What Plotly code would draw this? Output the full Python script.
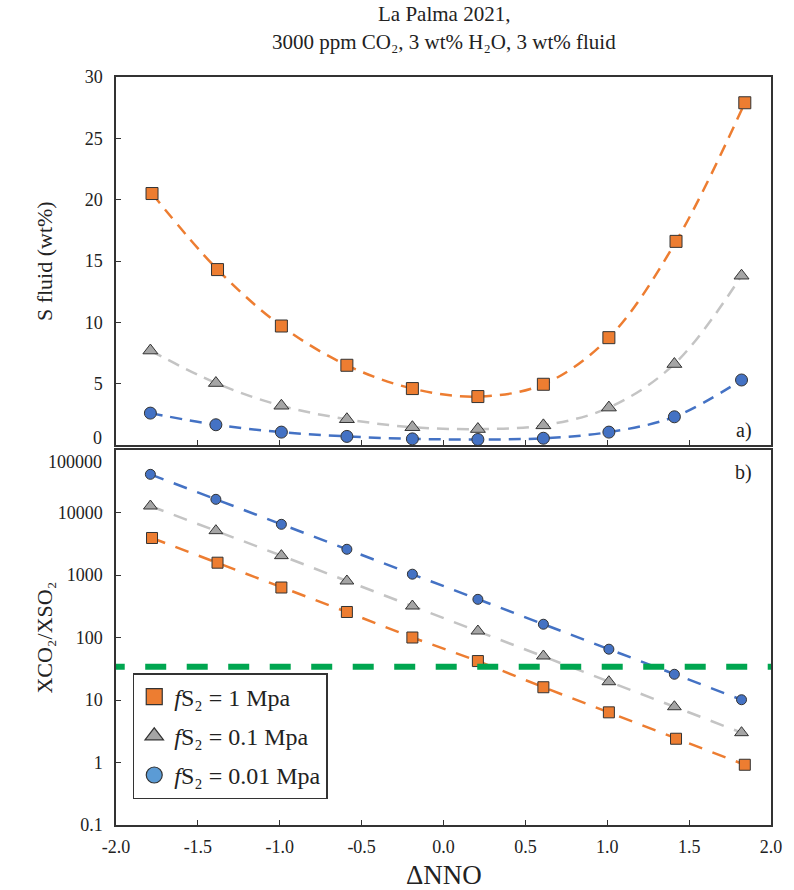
import plotly.graph_objects as go

# ---------------- data ----------------
dnno = [-1.79, -1.39, -0.99, -0.59, -0.19, 0.21, 0.61, 1.01, 1.41, 1.82]
dnno_sq = [-1.78, -1.38, -0.99, -0.59, -0.19, 0.21, 0.61, 1.01, 1.42, 1.84]

s_fluid_1 = [20.5, 14.3, 9.7, 6.5, 4.6, 3.95, 4.95, 8.75, 16.6, 27.9]
s_fluid_01 = [7.7, 5.05, 3.2, 2.1, 1.45, 1.3, 1.6, 3.05, 6.6, 13.8]
s_fluid_001 = [2.6, 1.65, 1.05, 0.7, 0.5, 0.45, 0.55, 1.05, 2.3, 5.3]

ratio_1 = [3910, 1573, 631, 256, 100, 42, 16, 6.35, 2.4, 0.92]
ratio_01 = [12700, 5120, 2040, 802, 319, 127, 50.6, 19.6, 7.8, 3.0]
ratio_001 = [40800, 16250, 6470, 2580, 1030, 408, 163, 65, 25.8, 10.1]

threshold_x = [-2.075, 2.0]
threshold_y = [34, 34]

legend_names = ["<i>f</i>S₂ = 1 Mpa",
                "<i>f</i>S₂ = 0.1 Mpa",
                "<i>f</i>S₂ = 0.01 Mpa"]
x_ticks = [-2.0, -1.5, -1.0, -0.5, 0.0, 0.5, 1.0, 1.5, 2.0]
x_ticktext = ["-2.0", "-1.5", "-1.0", "-0.5", "0.0", "0.5", "1.0", "1.5", "2.0"]
top_ticks = [0, 5, 10, 15, 20, 25, 30]
top_ticktext = ["", "5", "10", "15", "20", "25", "30"]
bot_ticks = [0.1, 1, 10, 100, 1000, 10000, 100000]
bot_ticktext = ["0.1", "1", "10", "100", "1000", "10000", ""]

# ---------------- styles ----------------
ORANGE = "#ED7D31"
GRAY_M = "#A5A5A5"
GRAY_L = "#C4C4C4"
BLUE = "#4472C4"
BLUE_LEG = "#5B9BD5"
GREEN = "#00A650"
EDGE = "#333333"
FONT = "Liberation Serif"

fig = go.Figure()

series_top = [
    (dnno_sq, s_fluid_1, ORANGE, ORANGE, "square", 12),
    (dnno, s_fluid_01, GRAY_L, GRAY_M, "triangle-up", 13),
    (dnno, s_fluid_001, BLUE, BLUE, "circle", 12),
]
for xs, ys, lc, mc, sym, sz in series_top:
    fig.add_trace(go.Scatter(
        x=xs, y=ys, xaxis="x2", yaxis="y2", mode="lines+markers",
        line=dict(color=lc, width=2.5, dash="12px,8px", shape="spline", smoothing=1.0),
        marker=dict(symbol=sym, size=sz, color=mc, line=dict(color=EDGE, width=1)),
        showlegend=False, hoverinfo="skip"))

series_bot = [
    (dnno_sq, ratio_1, ORANGE, ORANGE, "square", 11),
    (dnno, ratio_01, GRAY_L, GRAY_M, "triangle-up", 12),
    (dnno, ratio_001, BLUE, BLUE, "circle", 10),
]
for xs, ys, lc, mc, sym, sz in series_bot:
    fig.add_trace(go.Scatter(
        x=xs, y=ys, xaxis="x", yaxis="y", mode="lines+markers",
        line=dict(color=lc, width=2.5, dash="14px,11px"),
        marker=dict(symbol=sym, size=sz, color=mc, line=dict(color=EDGE, width=1)),
        showlegend=False, hoverinfo="skip"))

# threshold line
fig.add_trace(go.Scatter(
    x=threshold_x, y=threshold_y, xaxis="x", yaxis="y", mode="lines",
    line=dict(color=GREEN, width=6, dash="21px,20.5px"),
    showlegend=False, hoverinfo="skip"))

# legend entries
for name, mc, sym, grp in zip(legend_names, [ORANGE, GRAY_M, BLUE_LEG],
                              ["square", "triangle-up", "circle"], ["a", "b", "c"]):
    fig.add_trace(go.Scatter(
        x=[None], y=[None], xaxis="x", yaxis="y", mode="markers", name=name,
        legendgroup=grp,
        marker=dict(symbol=sym, size=16, color=mc, line=dict(color=EDGE, width=1.2))))

axis_common = dict(
    showline=True, linecolor=EDGE, linewidth=1.5, mirror=True,
    ticks="inside", ticklen=5, tickwidth=1, tickcolor=EDGE,
    showgrid=False, zeroline=False,
    tickfont=dict(family=FONT, size=18, color="#222222"),
)

L, R, T, B = 116, 13, 77, 65
W, H = 794, 890
ph = H - T - B
pw = W - L - R

def py(pix):
    return (H - B - pix) / ph

def px(pix):
    return (pix - L) / pw

fig.update_layout(
    width=W, height=H,
    margin=dict(l=L, r=R, t=T, b=B, pad=0),
    paper_bgcolor="white", plot_bgcolor="white",
    font=dict(family=FONT, color="#222222"),
    xaxis=dict(axis_common, range=[-2, 2], tickvals=x_ticks, ticktext=x_ticktext,
               anchor="y", domain=[0, 1], ticklabelstandoff=5),
    yaxis=dict(axis_common, type="log", range=[-1, 5], tickvals=bot_ticks,
               ticktext=bot_ticktext, anchor="x", domain=[0, py(450)],
               ticklabelstandoff=8),
    xaxis2=dict(axis_common, range=[-2, 2], tickvals=x_ticks, showticklabels=False,
                anchor="y2", domain=[0, 1], matches="x"),
    yaxis2=dict(axis_common, range=[0, 30], tickvals=top_ticks, ticktext=top_ticktext,
                anchor="x2", domain=[py(445), 1], ticklabelstandoff=8),
    legend=dict(x=px(133), y=py(673), xanchor="left", yanchor="top",
                bordercolor=EDGE, borderwidth=1.5, bgcolor="white",
                font=dict(family=FONT, size=24, color="#222222"),
                traceorder="grouped", tracegroupgap=5, itemwidth=30),
    showlegend=True,
)

ann_font = dict(family=FONT, color="#222222")
annotations = [
    dict(text="La Palma 2021,", x=0.5, y=py(14), font=dict(ann_font, size=21)),
    dict(text="3000 ppm CO₂, 3 wt% H₂O, 3 wt% fluid", x=0.5, y=py(42),
         font=dict(ann_font, size=21)),
    dict(text="S fluid (wt%)", x=px(43), y=py(261), textangle=-90, font=dict(ann_font, size=22)),
    dict(text="XCO₂/XSO₂", x=px(43), y=py(637.5), textangle=-90,
         font=dict(ann_font, size=22)),
    dict(text="ΔNNO", x=0.5, y=py(875), font=dict(ann_font, size=27)),
    dict(text="a)", x=px(764), y=py(430), xanchor="right", font=dict(ann_font, size=20)),
    dict(text="b)", x=px(764), y=py(472), xanchor="right", font=dict(ann_font, size=20)),
    dict(text="0", x=px(103.5), y=py(438), xanchor="right", font=dict(ann_font, size=18)),
    dict(text="100000", x=px(103.5), y=py(461.5), xanchor="right", font=dict(ann_font, size=18)),
]
for a in annotations:
    a.setdefault("xanchor", "center")
    a.update(xref="paper", yref="paper", yanchor="middle", showarrow=False)
fig.update_layout(annotations=annotations)

fig.write_html("out.html")
